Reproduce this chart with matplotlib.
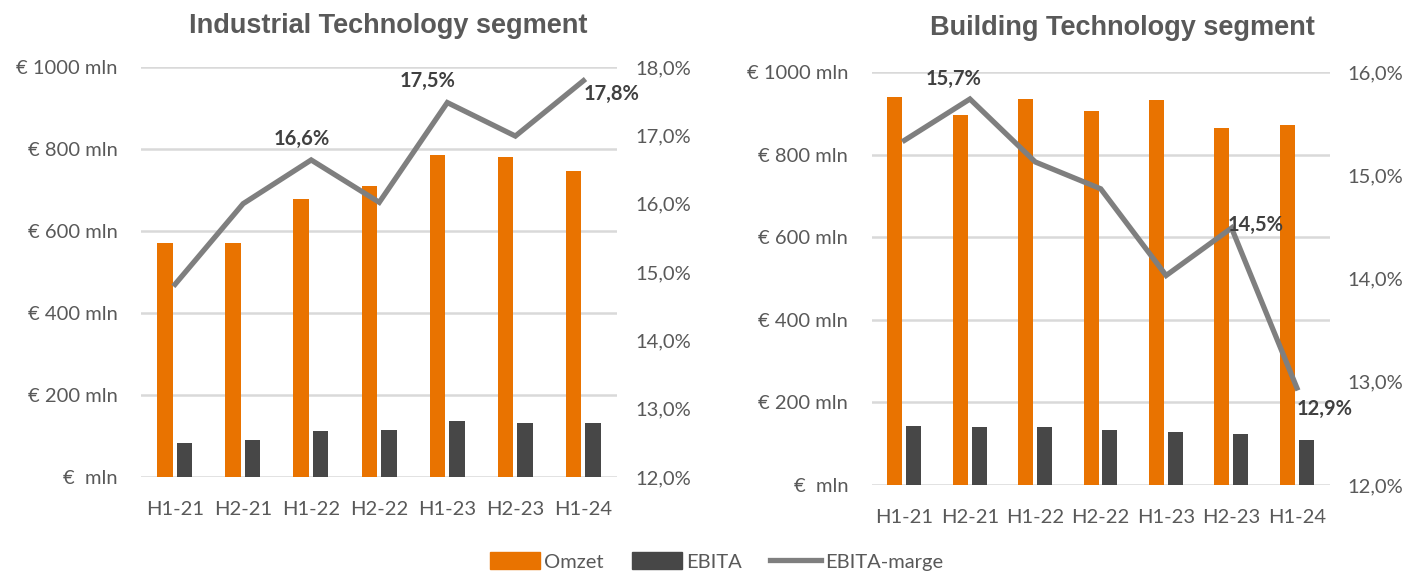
import numpy as np
import matplotlib
matplotlib.use("Agg")
import matplotlib.pyplot as plt
from matplotlib.lines import Line2D
from matplotlib.patches import Patch

periods = ["H1-21", "H2-21", "H1-22", "H2-22", "H1-23", "H2-23", "H1-24"]

ind_omzet = [571, 572, 679, 709, 786, 780, 747]
ind_ebita = [84, 91, 113, 114, 137, 132, 132]
ind_marge = [14.82, 16.0, 16.64, 16.02, 17.48, 16.99, 17.80]

bld_omzet = [940, 897, 935, 907, 932, 866, 873]
bld_ebita = [142, 140, 140, 133, 129, 123, 110]
bld_marge = [15.34, 15.74, 15.13, 14.87, 14.03, 14.49, 12.94]

ORANGE = "#E97300"
DARK = "#474747"
LINE = "#7F7F7F"
TXT = "#595959"
LBL = "#404040"

tick_font = "Lato"
tsize = 14.5


def eur_fmt(v):
    v = int(round(v))
    return "€  mln" if v == 0 else f"€ {v} mln"


def pct_fmt(v):
    return f"{v:.1f}%".replace(".", ",")


def draw(ax, omzet, ebita, marge, pct_lim, labels):
    x = np.arange(len(periods))
    w = 0.227
    ax.bar(x - 0.147, omzet, w, color=ORANGE, zorder=2)
    ax.bar(x + 0.14, ebita, w, color=DARK, zorder=2)
    ax.set_ylim(0, 1000)
    ax.set_yticks(range(0, 1001, 200))
    ax.set_yticklabels([eur_fmt(v) for v in range(0, 1001, 200)])
    ax.set_xlim(-0.5, len(periods) - 0.5)
    ax.set_xticks(x)
    ax.set_xticklabels(periods)
    ax.grid(axis="y", color="#D9D9D9", linewidth=1.8, zorder=0)
    for s in ax.spines.values():
        s.set_visible(False)
    ax.tick_params(length=0, labelsize=tsize, labelcolor=TXT)
    ax.tick_params(axis="x", pad=17)
    ax.tick_params(axis="y", pad=17)
    for t in ax.get_xticklabels() + ax.get_yticklabels():
        t.set_fontfamily(tick_font)

    ax2 = ax.twinx()
    ax2.plot(x, marge, color=LINE, linewidth=3.8, zorder=3,
             solid_joinstyle="miter")
    ax2.set_ylim(*pct_lim)
    ticks = np.arange(pct_lim[0], pct_lim[1] + 0.01, 1.0)
    ax2.set_yticks(ticks)
    ax2.set_yticklabels([pct_fmt(v) for v in ticks])
    for s in ax2.spines.values():
        s.set_visible(False)
    ax2.tick_params(length=0, labelsize=tsize, labelcolor=TXT, pad=13)
    for t in ax2.get_yticklabels():
        t.set_fontfamily(tick_font)
    for i, dx, dy, ha, va in labels:
        ax2.annotate(pct_fmt(marge[i]), (x[i], marge[i]), xytext=(dx, dy),
                     textcoords="offset points", ha=ha, va=va,
                     fontsize=14.5, fontweight="bold", color=LBL,
                     family="Lato")


fig = plt.figure(figsize=(14.13, 5.73), dpi=100)
ax1 = fig.add_axes([0.0998, 0.1675, 0.3372, 0.7155])
ax3 = fig.add_axes([0.617, 0.1536, 0.324, 0.7204])

draw(ax1, ind_omzet, ind_ebita, ind_marge, (12, 18),
     [(2, -7, 8, "center", "bottom"), (4, -14, 8, "center", "bottom"),
      (6, 0, -2, "left", "top")])
draw(ax3, bld_omzet, bld_ebita, bld_marge, (12, 16),
     [(1, -12, 7, "center", "bottom"), (5, -3, 2, "left", "center"),
      (6, 0, -8, "left", "top")])

fig.text(388 / 1413, 1 - 26 / 573, "Industrial Technology segment",
         ha="center", va="center", fontsize=19.5, fontweight="bold",
         color=TXT, family="Liberation Sans")
fig.text(1122 / 1413, 1 - 28 / 573, "Building Technology segment",
         ha="center", va="center", fontsize=19.5, fontweight="bold",
         color=TXT, family="Liberation Sans")

handles = [Patch(color=ORANGE), Patch(color=DARK),
           Line2D([0], [0], color=LINE, linewidth=3.8)]
fig.legend(handles, ["Omzet", "EBITA", "EBITA-marge"], loc="center",
           bbox_to_anchor=(0.507, 0.02), ncol=3, frameon=False,
           prop={"family": tick_font, "size": tsize}, labelcolor=TXT,
           handlelength=2.5, handleheight=0.9, columnspacing=1.4,
           handletextpad=0.2, borderpad=0.1)

fig.savefig("out.png", dpi=100)
